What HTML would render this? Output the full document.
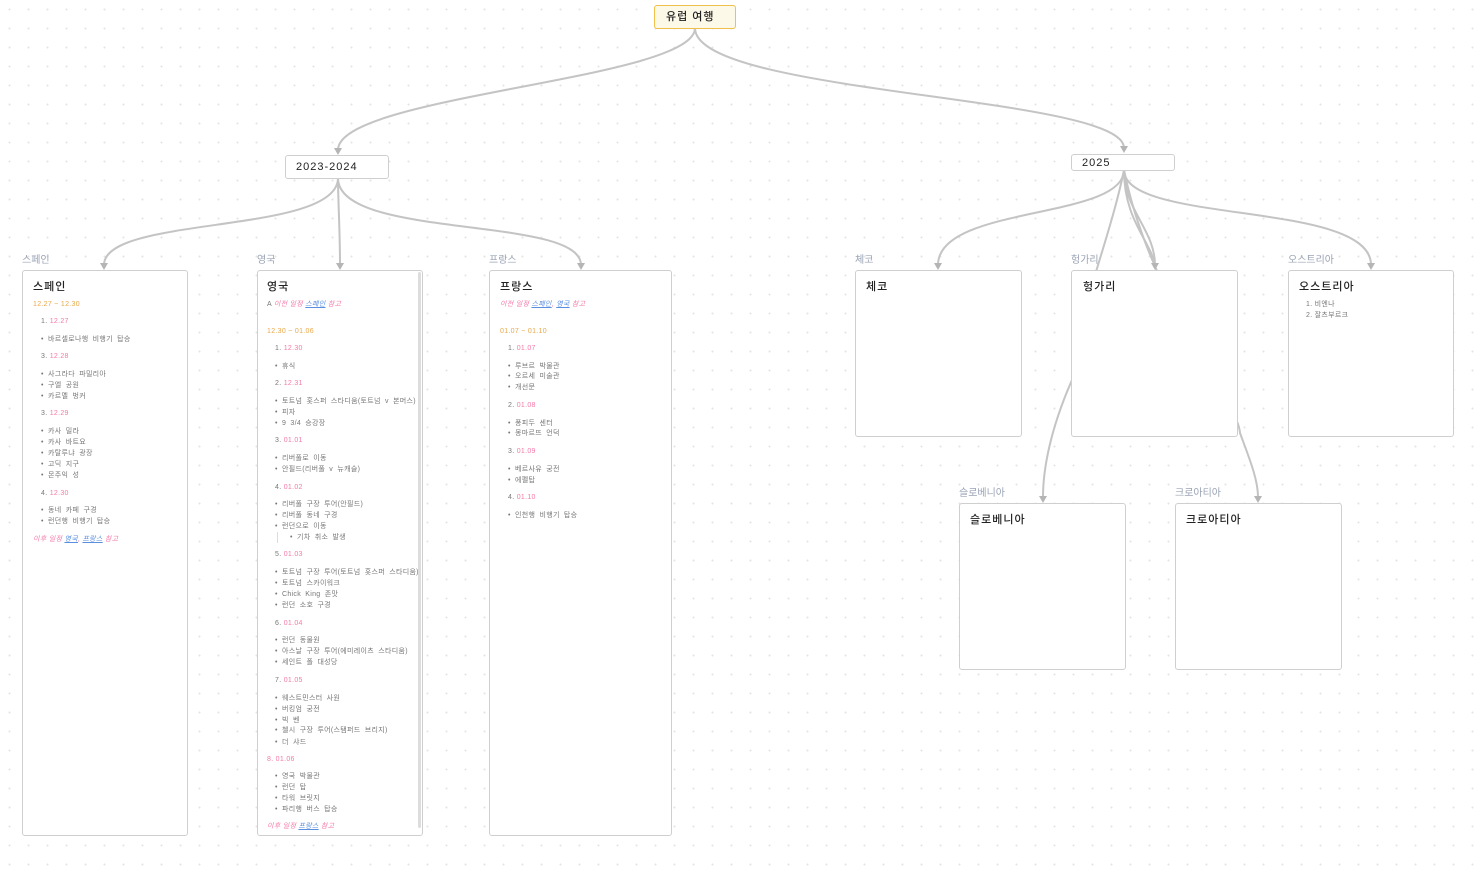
<!DOCTYPE html>
<html><head><meta charset="utf-8"><style>
body{margin:0;width:1477px;height:873px;overflow:hidden;background:#fff;
background-image:radial-gradient(circle,#e4e4e4 0.8px,transparent 1.2px);background-size:19px 19px;
font-family:"Liberation Sans","Noto Sans CJK KR",sans-serif;position:relative}
.b{position:absolute;background:#fff;border:1px solid #cfcfcf;border-radius:3px;box-sizing:border-box}
.t{position:absolute;white-space:nowrap;font-size:7px;line-height:10px;color:#777;letter-spacing:0.3px}
.ti{font-size:11px;color:#222;line-height:14px;letter-spacing:1px;font-weight:500}
.lb{position:absolute;font-size:10px;color:#9aa3b5;line-height:12px}
.o{color:#e9a84a}.p{color:#f47aa8}.l{color:#5a8fe0;text-decoration:underline}.i{font-style:italic;color:#f47aa8}
.t.u{word-spacing:2px}
svg{position:absolute;left:0;top:0}
</style></head><body>
<svg width="1477" height="873" fill="none" stroke="#c4c4c4" stroke-width="2">
<path d="M695 28 C695 80 338 95 338 150"/>
<path d="M695 28 C695 95 1124 95 1124 148"/>
<path d="M338 178 C338 235 104 215 104 265"/>
<path d="M338 178 C338 200 340 230 340 265"/>
<path d="M338 178 C338 240 581 215 581 265"/>
<path d="M1124 170 C1124 220 938 205 938 265"/>
<path d="M1124 170 C1124 210 1155 230 1155 265"/>
<path d="M1124 170 C1124 220 1150 240 1155 265"/>
<path d="M1124 170 C1124 225 1371 200 1371 265"/>
<path d="M1124 170 C1110 240 1072 330 1072 380 C1050 430 1043 470 1043 497"/>
<path d="M1124 170 C1150 300 1238 400 1240 433 C1250 460 1258 480 1258 497"/>
<g fill="#b5b5b5" stroke="none">
<path d="M334 148h8l-4 7z"/><path d="M1120 146h8l-4 7z"/>
<path d="M100 263h8l-4 7z"/><path d="M336 263h8l-4 7z"/><path d="M577 263h8l-4 7z"/>
<path d="M934 263h8l-4 7z"/><path d="M1151 263h8l-4 7z"/><path d="M1367 263h8l-4 7z"/>
<path d="M1039 496h8l-4 7z"/><path d="M1254 496h8l-4 7z"/>
</g></svg>

<div class="b" style="left:654px;top:5px;width:82px;height:24px;background:#fdf9e8;border:1.5px solid #f0c04a"></div>
<div class="t ti" style="left:666px;top:10px">유럽 여행</div>
<div class="b" style="left:285px;top:155px;width:104px;height:24px"></div>
<div class="t ti" style="left:296px;top:160px">2023-2024</div>
<div class="b" style="left:1071px;top:154px;width:104px;height:17px"></div>
<div class="t ti" style="left:1082px;top:156px">2025</div>

<div class="lb" style="left:22px;top:255px">스페인</div>
<div class="lb" style="left:257px;top:255px">영국</div>
<div class="lb" style="left:489px;top:255px">프랑스</div>
<div class="lb" style="left:855px;top:255px">체코</div>
<div class="lb" style="left:1071px;top:255px">헝가리</div>
<div class="lb" style="left:1288px;top:255px">오스트리아</div>
<div class="lb" style="left:959px;top:488px">슬로베니아</div>
<div class="lb" style="left:1175px;top:488px">크로아티아</div>

<div class="b" style="left:22px;top:270px;width:166px;height:566px"></div>
<div class="b" style="left:257px;top:270px;width:166px;height:566px"></div>
<div style="position:absolute;left:418px;top:272px;width:3px;height:556px;background:#ddd;border-radius:2px"></div>
<div class="b" style="left:489px;top:270px;width:183px;height:566px"></div>
<div class="b" style="left:855px;top:270px;width:167px;height:167px"></div>
<div class="b" style="left:1071px;top:270px;width:167px;height:167px"></div>
<div class="b" style="left:1288px;top:270px;width:166px;height:167px"></div>
<div class="b" style="left:959px;top:503px;width:167px;height:167px"></div>
<div class="b" style="left:1175px;top:503px;width:167px;height:167px"></div>

<div class="t ti" style="left:866px;top:280px">체코</div>
<div class="t ti" style="left:1083px;top:280px">헝가리</div>
<div class="t ti" style="left:1299px;top:280px">오스트리아</div>
<div class="t" style="left:1306px;top:300px">1. 비엔나</div>
<div class="t" style="left:1306px;top:311px">2. 잘츠부르크</div>
<div class="t ti" style="left:970px;top:513px">슬로베니아</div>
<div class="t ti" style="left:1186px;top:513px">크로아티아</div>

<!-- Spain -->
<div class="t ti" style="left:33px;top:280px">스페인</div>
<div class="t o" style="left:33px;top:300px">12.27 ~ 12.30</div>
<div class="t" style="left:41px;top:317px">1. <span class="p">12.27</span></div>
<div class="t u" style="left:41px;top:335px">• 바르셀로나행 비행기 탑승</div>
<div class="t" style="left:41px;top:352px">3. <span class="p">12.28</span></div>
<div class="t u" style="left:41px;top:370px">• 사그라다 파밀리아</div>
<div class="t u" style="left:41px;top:381px">• 구엘 공원</div>
<div class="t u" style="left:41px;top:392px">• 카르멜 벙커</div>
<div class="t" style="left:41px;top:409px">3. <span class="p">12.29</span></div>
<div class="t u" style="left:41px;top:427px">• 카사 밀라</div>
<div class="t u" style="left:41px;top:438px">• 카사 바트요</div>
<div class="t u" style="left:41px;top:449px">• 카탈루냐 광장</div>
<div class="t u" style="left:41px;top:460px">• 고딕 지구</div>
<div class="t u" style="left:41px;top:471px">• 몬주익 성</div>
<div class="t" style="left:41px;top:489px">4. <span class="p">12.30</span></div>
<div class="t u" style="left:41px;top:506px">• 동네 카페 구경</div>
<div class="t u" style="left:41px;top:517px">• 런던행 비행기 탑승</div>
<div class="t i" style="left:33px;top:535px">이후 일정 <span class="l">영국</span>, <span class="l">프랑스</span> 참고</div>

<!-- England -->
<div class="t ti" style="left:267px;top:280px">영국</div>
<div class="t" style="left:267px;top:300px">A <span class="i">이전 일정 <span class="l">스페인</span> 참고</span></div>
<div class="t o" style="left:267px;top:327px">12.30 ~ 01.06</div>
<div class="t" style="left:275px;top:344px">1. <span class="p">12.30</span></div>
<div class="t u" style="left:275px;top:362px">• 휴식</div>
<div class="t" style="left:275px;top:379px">2. <span class="p">12.31</span></div>
<div class="t u" style="left:275px;top:397px">• 토트넘 홋스퍼 스타디움(토트넘 v 본머스)</div>
<div class="t u" style="left:275px;top:408px">• 피자</div>
<div class="t u" style="left:275px;top:419px">• 9 3/4 승강장</div>
<div class="t" style="left:275px;top:436px">3. <span class="p">01.01</span></div>
<div class="t u" style="left:275px;top:454px">• 리버풀로 이동</div>
<div class="t u" style="left:275px;top:465px">• 안필드(리버풀 v 뉴캐슬)</div>
<div class="t" style="left:275px;top:483px">4. <span class="p">01.02</span></div>
<div class="t u" style="left:275px;top:500px">• 리버풀 구장 투어(안필드)</div>
<div class="t u" style="left:275px;top:511px">• 리버풀 동네 구경</div>
<div class="t u" style="left:275px;top:522px">• 런던으로 이동</div>
<div class="t u" style="left:290px;top:533px">• 기차 취소 발생</div>
<div style="position:absolute;left:277px;top:532px;width:1px;height:11px;background:#ddd"></div>
<div class="t" style="left:275px;top:550px">5. <span class="p">01.03</span></div>
<div class="t u" style="left:275px;top:568px">• 토트넘 구장 투어(토트넘 홋스퍼 스타디움)</div>
<div class="t u" style="left:275px;top:579px">• 토트넘 스카이워크</div>
<div class="t u" style="left:275px;top:590px">• Chick King 존맛</div>
<div class="t u" style="left:275px;top:601px">• 런던 소호 구경</div>
<div class="t" style="left:275px;top:619px">6. <span class="p">01.04</span></div>
<div class="t u" style="left:275px;top:636px">• 런던 동물원</div>
<div class="t u" style="left:275px;top:647px">• 아스날 구장 투어(에미레이츠 스타디움)</div>
<div class="t u" style="left:275px;top:658px">• 세인트 폴 대성당</div>
<div class="t" style="left:275px;top:676px">7. <span class="p">01.05</span></div>
<div class="t u" style="left:275px;top:694px">• 웨스트민스터 사원</div>
<div class="t u" style="left:275px;top:705px">• 버킹엄 궁전</div>
<div class="t u" style="left:275px;top:716px">• 빅 벤</div>
<div class="t u" style="left:275px;top:726px">• 첼시 구장 투어(스탬퍼드 브리지)</div>
<div class="t u" style="left:275px;top:738px">• 더 샤드</div>
<div class="t p" style="left:267px;top:755px">8. 01.06</div>
<div class="t u" style="left:275px;top:772px">• 영국 박물관</div>
<div class="t u" style="left:275px;top:783px">• 런던 탑</div>
<div class="t u" style="left:275px;top:794px">• 타워 브릿지</div>
<div class="t u" style="left:275px;top:805px">• 파리행 버스 탑승</div>
<div class="t i" style="left:267px;top:822px">이후 일정 <span class="l">프랑스</span> 참고</div>

<!-- France -->
<div class="t ti" style="left:500px;top:280px">프랑스</div>
<div class="t i" style="left:500px;top:300px">이전 일정 <span class="l">스페인</span>, <span class="l">영국</span> 참고</div>
<div class="t o" style="left:500px;top:327px">01.07 ~ 01.10</div>
<div class="t" style="left:508px;top:344px">1. <span class="p">01.07</span></div>
<div class="t u" style="left:508px;top:362px">• 루브르 박물관</div>
<div class="t u" style="left:508px;top:372px">• 오르세 미술관</div>
<div class="t u" style="left:508px;top:383px">• 개선문</div>
<div class="t" style="left:508px;top:401px">2. <span class="p">01.08</span></div>
<div class="t u" style="left:508px;top:419px">• 퐁피두 센터</div>
<div class="t u" style="left:508px;top:429px">• 몽마르뜨 언덕</div>
<div class="t" style="left:508px;top:447px">3. <span class="p">01.09</span></div>
<div class="t u" style="left:508px;top:465px">• 베르사유 궁전</div>
<div class="t u" style="left:508px;top:476px">• 에펠탑</div>
<div class="t" style="left:508px;top:493px">4. <span class="p">01.10</span></div>
<div class="t u" style="left:508px;top:511px">• 인천행 비행기 탑승</div>
</body></html>
